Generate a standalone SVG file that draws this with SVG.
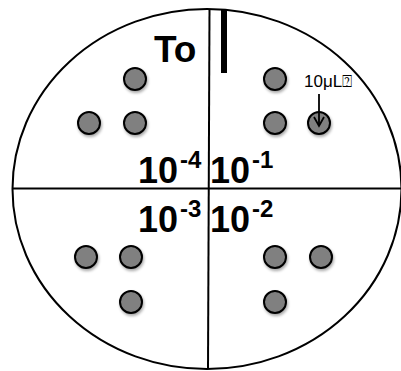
<svg xmlns="http://www.w3.org/2000/svg" width="401" height="371" viewBox="0 0 401 371">
<style>
.ln{stroke:#000;stroke-width:2;fill:none}
.dot{fill:#808080;stroke:#000;stroke-width:2;filter:url(#sh)}
.big{font-family:"Liberation Sans",Arial,sans-serif;font-weight:bold;font-size:36px;fill:#000}
.sup{font-family:"Liberation Sans",Arial,sans-serif;font-weight:bold;font-size:24px;fill:#000}
.lbl{font-family:"Liberation Sans","DejaVu Sans",Arial,sans-serif;font-size:17px;fill:#000}
</style>
<defs>
<filter id="sh" x="-50%" y="-50%" width="200%" height="200%">
<feGaussianBlur in="SourceAlpha" stdDeviation="1.5"/>
<feOffset dx="1" dy="2" result="b"/>
<feComponentTransfer><feFuncA type="linear" slope="0.35"/></feComponentTransfer>
<feMerge><feMergeNode/><feMergeNode in="SourceGraphic"/></feMerge>
</filter>
<marker id="ah" markerWidth="12" markerHeight="12" refX="10" refY="6" orient="auto" markerUnits="userSpaceOnUse">
<path d="M1,1 L10,6 L1,11" fill="none" stroke="#000" stroke-width="1.8"/>
</marker>
</defs>
<g id="plate">
<ellipse cx="207" cy="189" rx="194.5" ry="180" class="ln"/>
<line x1="12" y1="188.5" x2="401" y2="188.5" class="ln"/>
<line x1="209.5" y1="9" x2="208" y2="369" class="ln"/>
<rect x="221" y="10" width="6" height="63" fill="#000"/>
</g>
<g id="labels">
<text x="154" y="62" class="big" style="font-size:37px">To</text>
<text x="138" y="183" class="big">10</text><text x="180" y="168" class="sup">-4</text>
<text x="210" y="183" class="big">10</text><text x="252" y="168" class="sup">-1</text>
<text x="138" y="232" class="big">10</text><text x="180" y="217" class="sup">-3</text>
<text x="210" y="232" class="big">10</text><text x="252" y="217" class="sup">-2</text>
<text x="304" y="87" class="lbl">10μL⍰</text>
</g>
<g id="dots">
<circle cx="135" cy="79" r="11" class="dot"/>
<circle cx="89" cy="123" r="11" class="dot"/>
<circle cx="135" cy="123" r="11" class="dot"/>
<circle cx="275" cy="79" r="11" class="dot"/>
<circle cx="275" cy="123" r="11" class="dot"/>
<circle cx="319" cy="123" r="11" class="dot"/>
<circle cx="86" cy="257" r="11" class="dot"/>
<circle cx="131" cy="257" r="11" class="dot"/>
<circle cx="131" cy="302" r="11" class="dot"/>
<circle cx="275" cy="257" r="11" class="dot"/>
<circle cx="321" cy="257" r="11" class="dot"/>
<circle cx="275" cy="302" r="11" class="dot"/>
</g>
<g id="connectors">
<line x1="319" y1="94" x2="319" y2="126" stroke="#000" stroke-width="1.8" marker-end="url(#ah)"/>
</g>
</svg>
